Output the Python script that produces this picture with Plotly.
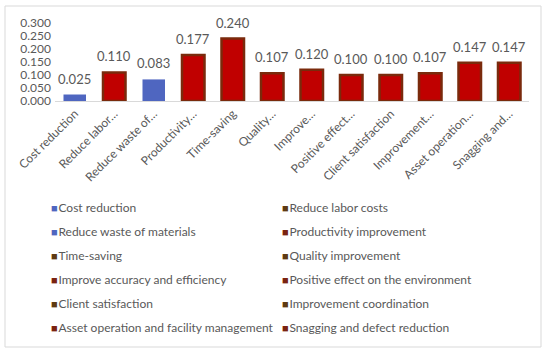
import plotly.graph_objects as go

full_names = ["Cost reduction", "Reduce labor costs", "Reduce waste of materials",
              "Productivity improvement", "Time-saving", "Quality improvement",
              "Improve accuracy and efficiency", "Positive effect on the environment",
              "Client satisfaction", "Improvement coordination",
              "Asset operation and facility management", "Snagging and defect reduction"]
tick_labels = ["Cost reduction", "Reduce labor…", "Reduce waste of…", "Productivity…",
               "Time-saving", "Quality…", "Improve…", "Positive effect…",
               "Client satisfaction", "Improvement…", "Asset operation…", "Snagging and…"]
values = [0.025, 0.110, 0.083, 0.177, 0.240, 0.107, 0.120, 0.100, 0.100, 0.107, 0.147, 0.147]

BLUE = "#4F66C0"
RED = "#C00000"
BROWN_D = "#5E3A12"
BROWN_R = "#7A2310"
legend_colors = [BLUE, BROWN_D, BLUE, BROWN_R, BROWN_D, BROWN_D,
                 BROWN_R, BROWN_R, BROWN_D, BROWN_D, BROWN_R, BROWN_R]
is_blue = [True, False, True] + [False] * 9

TXT = "#595959"
FONT = "Lato"

ML, MR, MT, MB = 55, 21, 23, 254
PW, PH = 550 - ML - MR, 355 - MT - MB


def px_x(px):
    return (px - ML) / PW


def px_y(py):
    return (355 - MB - py) / PH


fig = go.Figure()
for i, (name, lab, v) in enumerate(zip(full_names, tick_labels, values)):
    if is_blue[i]:
        marker = dict(color=BLUE, line=dict(width=0))
    else:
        marker = dict(color=RED, line=dict(color="#7A2A0C", width=2.5))
    fig.add_trace(go.Bar(
        x=[lab], y=[v], name=name, marker=marker, width=0.57,
        cliponaxis=False, showlegend=False, hoverinfo="skip",
    ))
    fig.add_annotation(x=lab, y=v, text=f"{v:.3f}", showarrow=False,
                       yanchor="bottom", yshift=6,
                       font=dict(size=13, color=TXT, family=FONT))

# legend entries (coloured square drawn as text glyph, native swatch hidden)
for i, name in enumerate(full_names):
    label = (f"<span style='color:{legend_colors[i]};font-size:11px'>■</span>"
             f"<span style='font-size:3px'> </span>{name}")
    fig.add_trace(go.Bar(
        x=[None], y=[None], name=label,
        marker=dict(color="rgba(0,0,0,0)", line=dict(width=0)),
        legend="legend" if i % 2 == 0 else "legend2",
        legendgroup=f"g{i}", showlegend=True,
    ))

legend_common = dict(
    orientation="v", yanchor="top", xanchor="left",
    font=dict(size=12, color=TXT, family=FONT),
    tracegroupgap=5, bgcolor="rgba(0,0,0,0)", itemwidth=30,
)
fig.update_layout(
    width=550, height=355,
    margin=dict(l=ML, r=MR, t=MT, b=MB, autoexpand=False),
    paper_bgcolor="white", plot_bgcolor="white",
    font=dict(family=FONT, color=TXT),
    barmode="overlay",
    legend=dict(x=px_x(11), y=px_y(193), **legend_common),
    legend2=dict(x=px_x(242), y=px_y(193), **legend_common),
    xaxis=dict(
        type="category", categoryorder="array", categoryarray=tick_labels,
        tickangle=-45, tickfont=dict(size=12, color=TXT, family=FONT),
        showline=True, linecolor="#D9D9D9", linewidth=1, ticks="",
        showgrid=False, automargin=False,
    ),
    yaxis=dict(
        range=[0, 0.3], dtick=0.05, tickformat=".3f",
        tickfont=dict(size=12, color=TXT, family=FONT),
        showgrid=False, zeroline=False, showline=False, ticks="",
        ticklabelstandoff=3, automargin=False,
    ),
    showlegend=True,
)
# figure border
fig.add_shape(type="rect", xref="paper", yref="paper",
              x0=px_x(5), x1=px_x(541), y0=px_y(347), y1=px_y(6),
              line=dict(color="#D9D9D9", width=1), fillcolor="rgba(0,0,0,0)")

fig.write_html("out.html", config={"displayModeBar": False},
               post_script="document.body.style.margin='0px';")
